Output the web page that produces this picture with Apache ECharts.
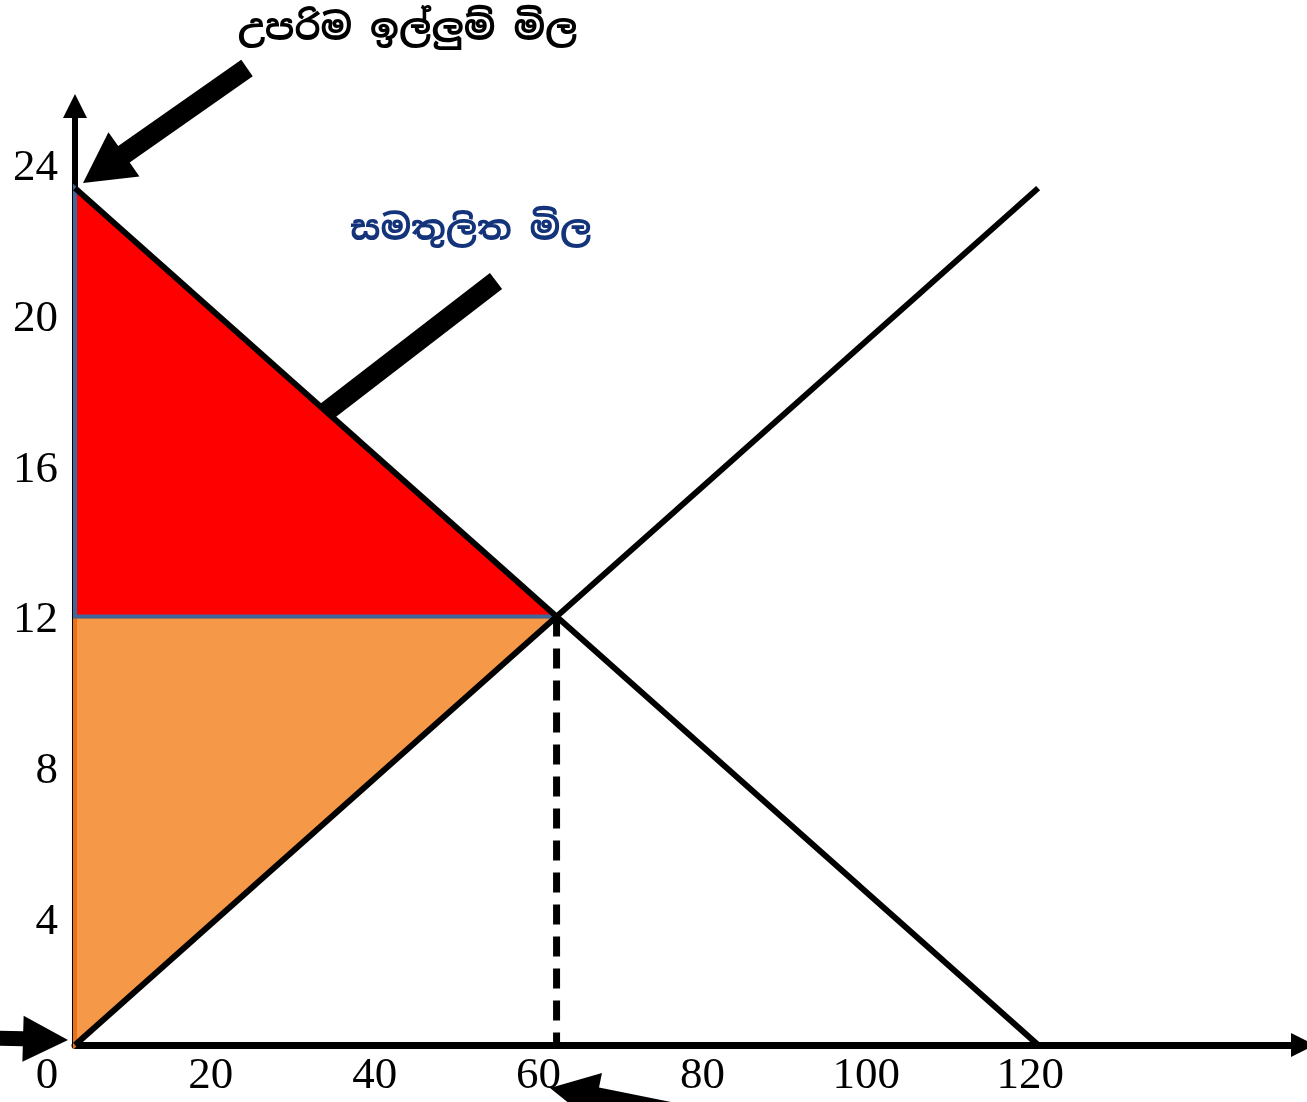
<html>
<head>
    <meta charset="utf-8">
    <title>Chart</title>
    <script src="https://cdn.jsdelivr.net/npm/echarts@6/dist/echarts.min.js"></script>
    <style>
        html, body { margin: 0; padding: 0; width: 100%; height: 100%; background: #fff; }
    </style>
</head>
<body>
    <div id="main" style="width: 1307px; height: 1102px;"></div>
    <script type="text/javascript">
        // data
        var xTicks = [0, 20, 40, 60, 80, 100, 120];
        var yTicks = [4, 8, 12, 16, 20, 24];
        var demandPts = [[0, 24], [120, 0]];
        var supplyPts = [[0, 0], [120, 24]];
        var equilibrium = [60, 12];
        var consumerSurplus = [[0, 24], [0, 12], [60, 12]];
        var producerSurplus = [[0, 12], [60, 12], [0, 0]];
        var titleMaxPrice = 'උපරිම ඉල්ලුම් මිල';
        var titleEqPrice = 'සමතුලිත මිල';

        var labelFont = '"Liberation Serif", "Times New Roman", serif';
        var sinhalaFont = '"Noto Sans Sinhala", "Iskoola Pota", "Noto Serif Sinhala", sans-serif';

        var myChart = echarts.init(document.getElementById('main'));

        // arrow polygon: from (x1,y1) to tip (x2,y2)
        function arrowShape(x1, y1, x2, y2, shaft, headW, headL) {
            var dx = x2 - x1, dy = y2 - y1;
            var len = Math.sqrt(dx * dx + dy * dy);
            var ux = dx / len, uy = dy / len;
            var px = -uy, py = ux;
            var bx = x2 - ux * headL, by = y2 - uy * headL;
            var s = shaft / 2, h = headW / 2;
            return [
                [x1 + px * s, y1 + py * s],
                [bx + px * s, by + py * s],
                [bx + px * h, by + py * h],
                [x2, y2],
                [bx - px * h, by - py * h],
                [bx - px * s, by - py * s],
                [x1 - px * s, y1 - py * s]
            ];
        }

        function polyRender(fill, stroke, lw) {
            return function (params, api) {
                var pts = [];
                for (var i = 0; i < 3; i++) {
                    pts.push(api.coord([api.value(2 * i), api.value(2 * i + 1)]));
                }
                return {
                    type: 'polygon',
                    shape: { points: pts },
                    style: { fill: fill, stroke: stroke, lineWidth: lw, lineJoin: 'miter' }
                };
            };
        }

        function flat(arr) {
            var out = [];
            arr.forEach(function (p) { out.push(p[0], p[1]); });
            return out;
        }

        var hidden = {
            axisLine: { show: false }, axisTick: { show: false }, splitLine: { show: false }, axisLabel: { show: false }
        };

        var option = {
            backgroundColor: '#fff',
            animation: false,
            grid: [
                { left: 75, right: 4, top: 106, bottom: 57, containLabel: false },
                // label grid (tick labels in the source are a little off the plot scale)
                { left: 47, right: 4, top: 106, bottom: 57, containLabel: false }
            ],
            xAxis: [
                {
                    type: 'value', min: 0, max: 153,
                    axisLine: { show: true, symbol: ['none', 'triangle'], symbolSize: [24, 24], lineStyle: { color: '#000', width: 7 } },
                    axisTick: { show: false }, axisLabel: { show: false }, splitLine: { show: false }
                },
                {
                    type: 'value', gridIndex: 1, position: 'bottom', min: 0, max: 153.3,
                    axisLine: { show: false }, axisTick: { show: false }, splitLine: { show: false },
                    axisLabel: { customValues: xTicks, margin: 9, color: '#000', fontSize: 45, fontFamily: labelFont }
                }
            ],
            yAxis: [
                {
                    type: 'value', min: 0, max: 26.3,
                    axisLine: { show: true, symbol: ['none', 'triangle'], symbolSize: [24, 24], lineStyle: { color: '#000', width: 6 } },
                    axisTick: { show: false }, axisLabel: { show: false }, splitLine: { show: false }
                },
                {
                    type: 'value', position: 'left', min: 0.743, max: 25.65,
                    axisLine: { show: false }, axisTick: { show: false }, splitLine: { show: false },
                    axisLabel: { customValues: yTicks, margin: 17, color: '#000', fontSize: 45, fontFamily: labelFont }
                },
                Object.assign({ type: 'value', gridIndex: 1, min: 0, max: 10 }, hidden)
            ],
            series: [
                {
                    name: 'producer', type: 'custom', z: 2,
                    renderItem: polyRender('#f59847', '#e8711a', 4),
                    encode: { x: [0, 2, 4], y: [1, 3, 5] },
                    data: [flat(producerSurplus)]
                },
                {
                    name: 'consumer', type: 'custom', z: 3,
                    renderItem: polyRender('#ff0000', '#41669a', 4),
                    encode: { x: [0, 2, 4], y: [1, 3, 5] },
                    data: [flat(consumerSurplus)]
                },
                {
                    name: 'demand', type: 'line', z: 5, symbol: 'none',
                    lineStyle: { color: '#000', width: 6 },
                    data: demandPts
                },
                {
                    name: 'supply', type: 'line', z: 5, symbol: 'none',
                    lineStyle: { color: '#000', width: 6 },
                    data: supplyPts
                },
                {
                    name: 'eq', type: 'line', z: 4, symbol: 'none',
                    lineStyle: { color: '#000', width: 7, type: [20, 12] },
                    data: [equilibrium, [equilibrium[0], 0]]
                }
            ],
            graphic: [
                { type: 'polygon', z: 0, shape: { points: arrowShape(496, 281, 300, 432, 20, 20, 1) }, style: { fill: '#000' } },
                { type: 'polygon', z: 10, shape: { points: arrowShape(247, 68, 83, 183, 20, 54, 50) }, style: { fill: '#000' } },
                { type: 'polygon', z: 10, shape: { points: arrowShape(-5, 1038, 68, 1040, 15, 46, 45) }, style: { fill: '#000' } },
                { type: 'polygon', z: 10, shape: { points: arrowShape(700, 1118, 550, 1088, 20, 50, 48) }, style: { fill: '#000' } },
                {
                    type: 'text', left: 238, top: 12, z: 10,
                    style: { text: titleMaxPrice, font: 'bold 36px ' + sinhalaFont, fill: '#000' }
                },
                {
                    type: 'text', left: 350, top: 213, z: 10,
                    style: { text: titleEqPrice, font: 'bold 35px ' + sinhalaFont, fill: '#13337a' }
                }
            ]
        };
        myChart.setOption(option);
    </script>
</body>
</html>
